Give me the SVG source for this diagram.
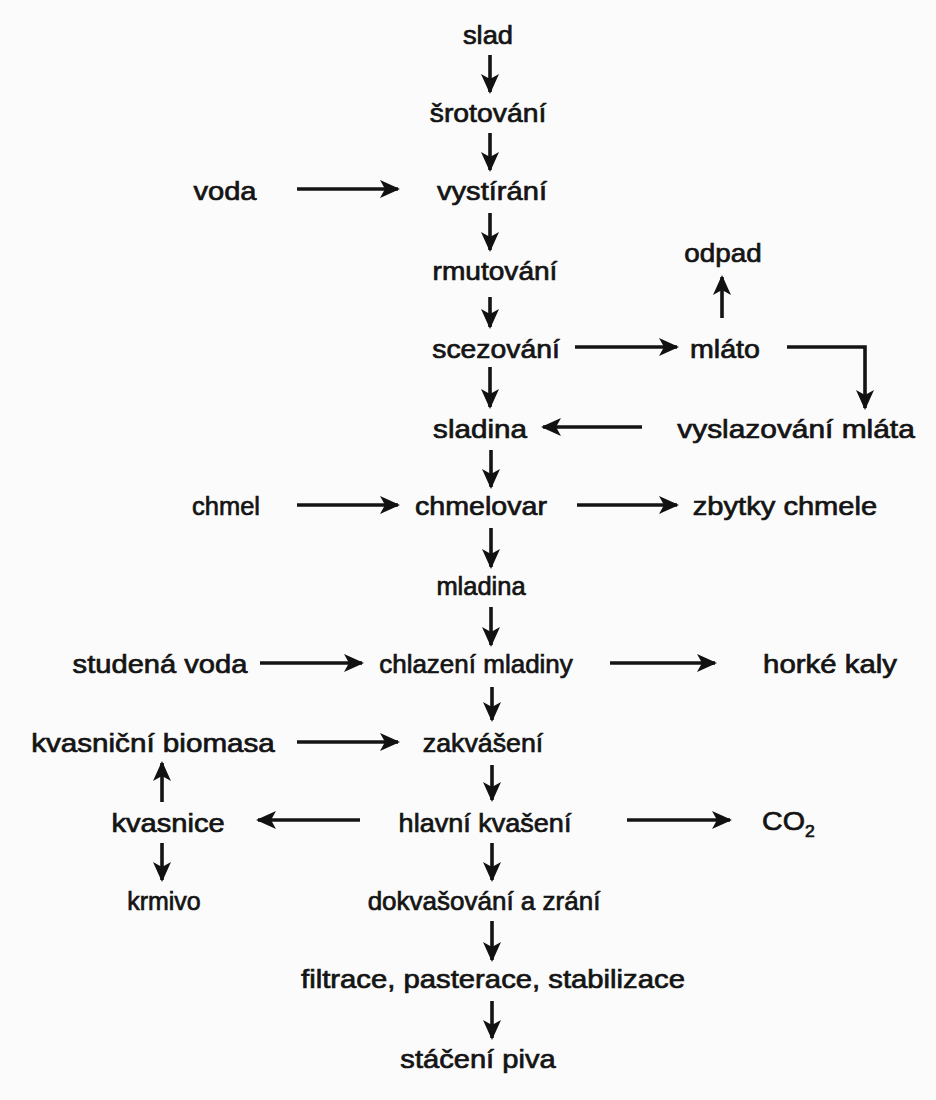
<svg xmlns="http://www.w3.org/2000/svg" width="936" height="1100" viewBox="0 0 936 1100">
<defs>
<marker id="ah" viewBox="0 0 20 18" markerWidth="20" markerHeight="18" refX="18" refY="9" orient="auto" markerUnits="userSpaceOnUse">
<path d="M0,0 L20,9 L0,18 L5,9 z" fill="#111"/>
</marker>
<style>
text{font-family:"Liberation Sans",Arial,sans-serif;font-size:26px;font-weight:normal;fill:#141414;stroke:#141414;stroke-width:0.7;text-anchor:middle}
.c line,.c path{stroke:#141414;stroke-width:3.6;fill:none;marker-end:url(#ah)}
</style>
</defs>
<rect width="936" height="1100" fill="#fbfbfb"/>
<g id="n-slad"><text transform="translate(488,44) scale(1.05,1)">slad</text></g>
<g id="n-srotovani"><text transform="translate(488,122) scale(1.09,1)">šrotování</text></g>
<g id="n-voda"><text transform="translate(225,200) scale(1.12,1)">voda</text></g>
<g id="n-vystirani"><text transform="translate(492,200) scale(1.12,1)">vystírání</text></g>
<g id="n-rmutovani"><text transform="translate(495,280) scale(1.08,1)">rmutování</text></g>
<g id="n-odpad"><text transform="translate(723,262) scale(1.07,1)">odpad</text></g>
<g id="n-scezovani"><text transform="translate(496,358) scale(1.09,1)">scezování</text></g>
<g id="n-mlato"><text transform="translate(725,358) scale(1.1,1)">mláto</text></g>
<g id="n-sladina"><text transform="translate(480,438) scale(1.14,1)">sladina</text></g>
<g id="n-vyslazovani"><text transform="translate(796,438) scale(1.15,1)">vyslazování mláta</text></g>
<g id="n-chmel"><text transform="translate(226,515) scale(0.98,1)">chmel</text></g>
<g id="n-chmelovar"><text transform="translate(481,515) scale(1.1,1)">chmelovar</text></g>
<g id="n-zbytky"><text transform="translate(785,515) scale(1.12,1)">zbytky chmele</text></g>
<g id="n-mladina"><text transform="translate(481,595) scale(0.98,1)">mladina</text></g>
<g id="n-studena"><text transform="translate(160,673) scale(1.12,1)">studená voda</text></g>
<g id="n-chlazeni"><text transform="translate(476,673) scale(1.0,1)">chlazení mladiny</text></g>
<g id="n-horke"><text transform="translate(830,673) scale(1.13,1)">horké kaly</text></g>
<g id="n-biomasa"><text transform="translate(153,752) scale(1.14,1)">kvasniční biomasa</text></g>
<g id="n-zakvaseni"><text transform="translate(483,752) scale(1.03,1)">zakvášení</text></g>
<g id="n-kvasnice"><text transform="translate(168,832) scale(1.12,1)">kvasnice</text></g>
<g id="n-hlavni"><text transform="translate(485,832) scale(1.04,1)">hlavní kvašení</text></g>
<g id="n-co2"><text transform="translate(762,830) scale(1.1,1)" style="text-anchor:start" stroke-width="0.3">CO<tspan font-size="16" dy="7">2</tspan></text></g>
<g id="n-krmivo"><text transform="translate(164,910) scale(0.96,1)">krmivo</text></g>
<g id="n-dokvasovani"><text transform="translate(484,910) scale(1.0,1)">dokvašování a zrání</text></g>
<g id="n-filtrace"><text transform="translate(493,988) scale(1.126,1)">filtrace, pasterace, stabilizace</text></g>
<g id="n-staceni"><text transform="translate(478,1068) scale(1.12,1)">stáčení piva</text></g>
<g id="connectors" class="c">
<line x1="490" y1="55" x2="490" y2="92"/>
<line x1="490" y1="133" x2="490" y2="170"/>
<line x1="490" y1="213" x2="490" y2="250"/>
<line x1="490" y1="297" x2="490" y2="327"/>
<line x1="490" y1="367" x2="490" y2="407"/>
<line x1="491" y1="450" x2="491" y2="487"/>
<line x1="491" y1="528" x2="491" y2="567"/>
<line x1="491" y1="607" x2="491" y2="645"/>
<line x1="492" y1="687" x2="492" y2="720"/>
<line x1="492" y1="765" x2="492" y2="800"/>
<line x1="492" y1="843" x2="492" y2="880"/>
<line x1="492" y1="921" x2="492" y2="960"/>
<line x1="492" y1="1001" x2="492" y2="1038"/>
<line x1="297" y1="189" x2="398" y2="189"/>
<line x1="722" y1="318" x2="722" y2="277"/>
<line x1="575" y1="347" x2="677" y2="347"/>
<path d="M787,347 H865 V408"/>
<line x1="642" y1="427" x2="543" y2="427"/>
<line x1="297" y1="505" x2="398" y2="505"/>
<line x1="577" y1="505" x2="677" y2="505"/>
<line x1="260" y1="663" x2="362" y2="663"/>
<line x1="610" y1="663" x2="715" y2="663"/>
<line x1="297" y1="742" x2="398" y2="742"/>
<line x1="162" y1="802" x2="162" y2="763"/>
<line x1="360" y1="820" x2="258" y2="820"/>
<line x1="627" y1="820" x2="730" y2="820"/>
<line x1="162" y1="843" x2="162" y2="880"/>
</g>
</svg>
